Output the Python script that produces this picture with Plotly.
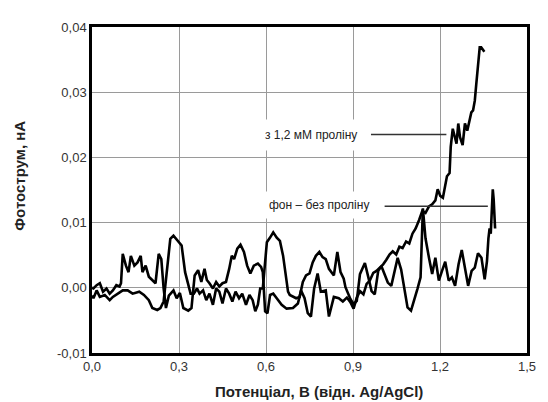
import plotly.graph_objects as go

# Photocurrent (nA) vs potential (V vs Ag/AgCl)
proline = [
    (0.000, 0.0000), (0.005, -0.0001), (0.016, 0.0004), (0.027, 0.0007), (0.038, -0.0006),
    (0.050, -0.0001), (0.061, -0.0009), (0.072, -0.0004), (0.084, 0.0004), (0.095, 0.0002),
    (0.100, 0.0007), (0.106, 0.0052), (0.117, 0.0034), (0.126, 0.0024), (0.134, 0.0049),
    (0.146, 0.0034), (0.157, 0.0039), (0.168, 0.0049), (0.174, 0.0024), (0.185, 0.0034),
    (0.196, 0.0017), (0.208, 0.0012), (0.219, 0.0007), (0.230, 0.0052), (0.239, 0.0044),
    (0.247, -0.0001), (0.255, -0.0031), (0.265, -0.0012), (0.281, -0.0004), (0.292, -0.0016),
    (0.303, -0.0008), (0.315, -0.0031), (0.332, -0.0035), (0.343, -0.0031), (0.354, 0.0019),
    (0.366, 0.0027), (0.377, 0.0009), (0.388, 0.0029), (0.396, 0.0012), (0.405, 0.0007),
    (0.417, -0.0001), (0.428, 0.0009), (0.439, 0.0002), (0.450, 0.0007), (0.462, 0.0009),
    (0.473, 0.0029), (0.482, 0.0049), (0.490, 0.0044), (0.501, 0.0060), (0.512, 0.0066),
    (0.524, 0.0055), (0.535, 0.0034), (0.546, 0.0022), (0.558, 0.0034), (0.572, 0.0037),
    (0.583, 0.0032), (0.589, 0.0024), (0.597, -0.0036), (0.605, -0.0039), (0.614, -0.0011),
    (0.625, -0.0009), (0.637, -0.0016), (0.654, -0.0026), (0.671, -0.0032), (0.693, -0.0031),
    (0.710, -0.0024), (0.721, -0.0004), (0.733, -0.0016), (0.744, -0.0039), (0.755, -0.0044),
    (0.766, -0.0001), (0.778, 0.0022), (0.789, -0.0006), (0.806, -0.0004), (0.817, -0.0044),
    (0.834, -0.0014), (0.851, -0.0016), (0.865, -0.0021), (0.879, -0.0015), (0.891, -0.0022),
    (0.902, -0.0032), (0.913, -0.0015), (0.924, -0.0005), (0.936, -0.0010), (0.947, 0.0006),
    (0.958, 0.0011), (0.970, 0.0023), (0.981, 0.0026), (0.992, 0.0031), (1.004, 0.0036),
    (1.015, 0.0043), (1.026, 0.0051), (1.037, 0.0056), (1.049, 0.0051), (1.060, 0.0063),
    (1.071, 0.0061), (1.083, 0.0071), (1.094, 0.0068), (1.105, 0.0083), (1.116, 0.0091),
    (1.128, 0.0104), (1.139, 0.0118), (1.150, 0.0115), (1.162, 0.0125), (1.173, 0.0128),
    (1.184, 0.0134), (1.192, 0.0151), (1.201, 0.0141), (1.210, 0.0138), (1.218, 0.0161),
    (1.224, 0.0171), (1.233, 0.0176), (1.237, 0.0216), (1.244, 0.0244), (1.252, 0.0231),
    (1.257, 0.0221), (1.263, 0.0252), (1.269, 0.0231), (1.278, 0.0219), (1.286, 0.0252),
    (1.294, 0.0241), (1.303, 0.0257), (1.308, 0.0269), (1.314, 0.0272), (1.320, 0.0287),
    (1.325, 0.0312), (1.331, 0.0342), (1.337, 0.0369), (1.342, 0.0369), (1.348, 0.0364),
    (1.353, 0.0362),
]

background = [
    (0.000, -0.0012), (0.005, -0.0016), (0.016, -0.0004), (0.027, -0.0014), (0.044, -0.0011),
    (0.061, -0.0019), (0.072, -0.0014), (0.089, -0.0009), (0.106, -0.0004), (0.123, -0.0004),
    (0.140, -0.0009), (0.163, -0.0006), (0.179, -0.0011), (0.196, -0.0019), (0.208, -0.0031),
    (0.225, -0.0034), (0.236, -0.0031), (0.247, -0.0021), (0.258, 0.0024), (0.270, 0.0075),
    (0.281, 0.0080), (0.287, 0.0077), (0.298, 0.0072), (0.309, 0.0065), (0.321, 0.0024),
    (0.332, 0.0002), (0.340, -0.0009), (0.351, -0.0009), (0.362, -0.0001), (0.371, -0.0009),
    (0.383, -0.0004), (0.394, -0.0019), (0.405, -0.0009), (0.417, -0.0026), (0.428, -0.0001),
    (0.439, -0.0006), (0.450, -0.0024), (0.462, -0.0001), (0.473, -0.0009), (0.484, -0.0021),
    (0.495, -0.0006), (0.507, -0.0016), (0.518, -0.0009), (0.531, -0.0026), (0.543, -0.0011),
    (0.554, -0.0019), (0.563, -0.0036), (0.572, -0.0026), (0.580, -0.0001), (0.589, -0.0001),
    (0.603, 0.0070), (0.614, 0.0077), (0.625, 0.0085), (0.637, 0.0077), (0.648, 0.0072),
    (0.659, 0.0049), (0.671, 0.0014), (0.676, -0.0006), (0.682, -0.0011), (0.693, -0.0014),
    (0.704, -0.0016), (0.716, -0.0014), (0.727, 0.0009), (0.738, 0.0019), (0.750, 0.0022),
    (0.761, 0.0039), (0.772, 0.0049), (0.784, 0.0055), (0.795, 0.0047), (0.806, 0.0044),
    (0.817, 0.0029), (0.834, 0.0019), (0.846, 0.0055), (0.857, 0.0024), (0.868, 0.0014),
    (0.874, 0.0001), (0.891, -0.0017), (0.902, -0.0025), (0.913, -0.0020), (0.924, 0.0021),
    (0.941, 0.0038), (0.953, 0.0016), (0.964, -0.0005), (0.975, -0.0010), (0.987, 0.0026),
    (0.998, 0.0033), (1.009, 0.0021), (1.020, 0.0008), (1.032, 0.0003), (1.043, 0.0026),
    (1.054, 0.0046), (1.066, 0.0028), (1.077, 0.0001), (1.088, -0.0030), (1.100, -0.0035),
    (1.111, -0.0020), (1.122, -0.0002), (1.133, 0.0016), (1.141, 0.0122), (1.145, 0.0101),
    (1.150, 0.0076), (1.162, 0.0046), (1.173, 0.0021), (1.184, 0.0046), (1.196, 0.0011),
    (1.207, 0.0026), (1.218, 0.0040), (1.230, 0.0011), (1.241, 0.0016), (1.252, 0.0003),
    (1.264, 0.0036), (1.275, 0.0058), (1.286, 0.0031), (1.297, 0.0003), (1.309, 0.0026),
    (1.320, 0.0031), (1.331, 0.0053), (1.343, 0.0046), (1.354, 0.0013), (1.362, 0.0041),
    (1.367, 0.0076), (1.371, 0.0091), (1.375, 0.0083), (1.380, 0.0146), (1.382, 0.0151),
    (1.385, 0.0136), (1.388, 0.0101), (1.390, 0.0091),
]

x_ticks = [0.0, 0.3, 0.6, 0.9, 1.2, 1.5]
x_ticklabels = ["0,0", "0,3", "0,6", "0,9", "1,2", "1,5"]
y_ticks = [-0.01, 0.0, 0.01, 0.02, 0.03, 0.04]
y_ticklabels = ["-0,01", "0,00", "0,01", "0,02", "0,03", "0,04"]

label_proline = "з 1,2 мМ проліну"
label_background = "фон – без проліну"
x_title = "Потенціал, В (відн. Ag/AgCl)"
y_title = "Фотострум, нА"

FONT = "Liberation Sans, Arial, sans-serif"

fig = go.Figure()
for series in (background, proline):
    fig.add_trace(go.Scatter(
        x=[p[0] for p in series], y=[p[1] for p in series],
        mode="lines", line=dict(color="black", width=2.6), showlegend=False,
        hoverinfo="skip",
    ))

# pointer lines for the labels
fig.add_shape(type="line", x0=0.962, x1=1.222, y0=0.0235, y1=0.0235,
              line=dict(color="#333333", width=1.5), layer="above")
fig.add_shape(type="line", x0=1.009, x1=1.365, y0=0.0125, y1=0.0125,
              line=dict(color="#333333", width=1.5), layer="above")

fig.add_annotation(x=0.755, y=0.0235, text=label_proline, showarrow=False,
                   font=dict(family=FONT, size=12, color="#222222"),
                   bgcolor="white", borderpad=8)
fig.add_annotation(x=0.782, y=0.01265, text=label_background, showarrow=False,
                   font=dict(family=FONT, size=12, color="#222222"),
                   bgcolor="white", borderpad=6)

# axis titles
fig.add_annotation(x=0.521, y=-0.1175, xref="paper", yref="paper", text="<b>" + x_title + "</b>",
                   showarrow=False, font=dict(family=FONT, size=15, color="#222222"),
                   xanchor="center", yanchor="middle")
fig.add_annotation(x=-0.167, y=0.545, xref="paper", yref="paper", text="<b>" + y_title + "</b>",
                   showarrow=False, textangle=-90, font=dict(family=FONT, size=15, color="#222222"),
                   xanchor="center", yanchor="middle")

fig.update_xaxes(range=[0, 1.5], tickvals=x_ticks, ticktext=x_ticklabels,
                 showgrid=True, gridcolor="#9a9a9a", gridwidth=1, zeroline=False,
                 showline=True, linecolor="black", linewidth=2.5, mirror=True,
                 ticks="", tickfont=dict(family=FONT, size=13, color="#333333"))
fig.update_yaxes(range=[-0.01, 0.04], tickvals=y_ticks, ticktext=y_ticklabels,
                 showgrid=True, gridcolor="#9a9a9a", gridwidth=1, zeroline=False,
                 showline=True, linecolor="black", linewidth=2.5, mirror=True,
                 ticks="", tickfont=dict(family=FONT, size=13, color="#333333"))

# page body has an 8px margin, so the figure is sized to fill the rest of the window
fig.update_layout(width=540, height=394, margin=dict(l=84, r=13, t=13, b=49),
                  paper_bgcolor="white", plot_bgcolor="white")

fig.write_html("out.html")
